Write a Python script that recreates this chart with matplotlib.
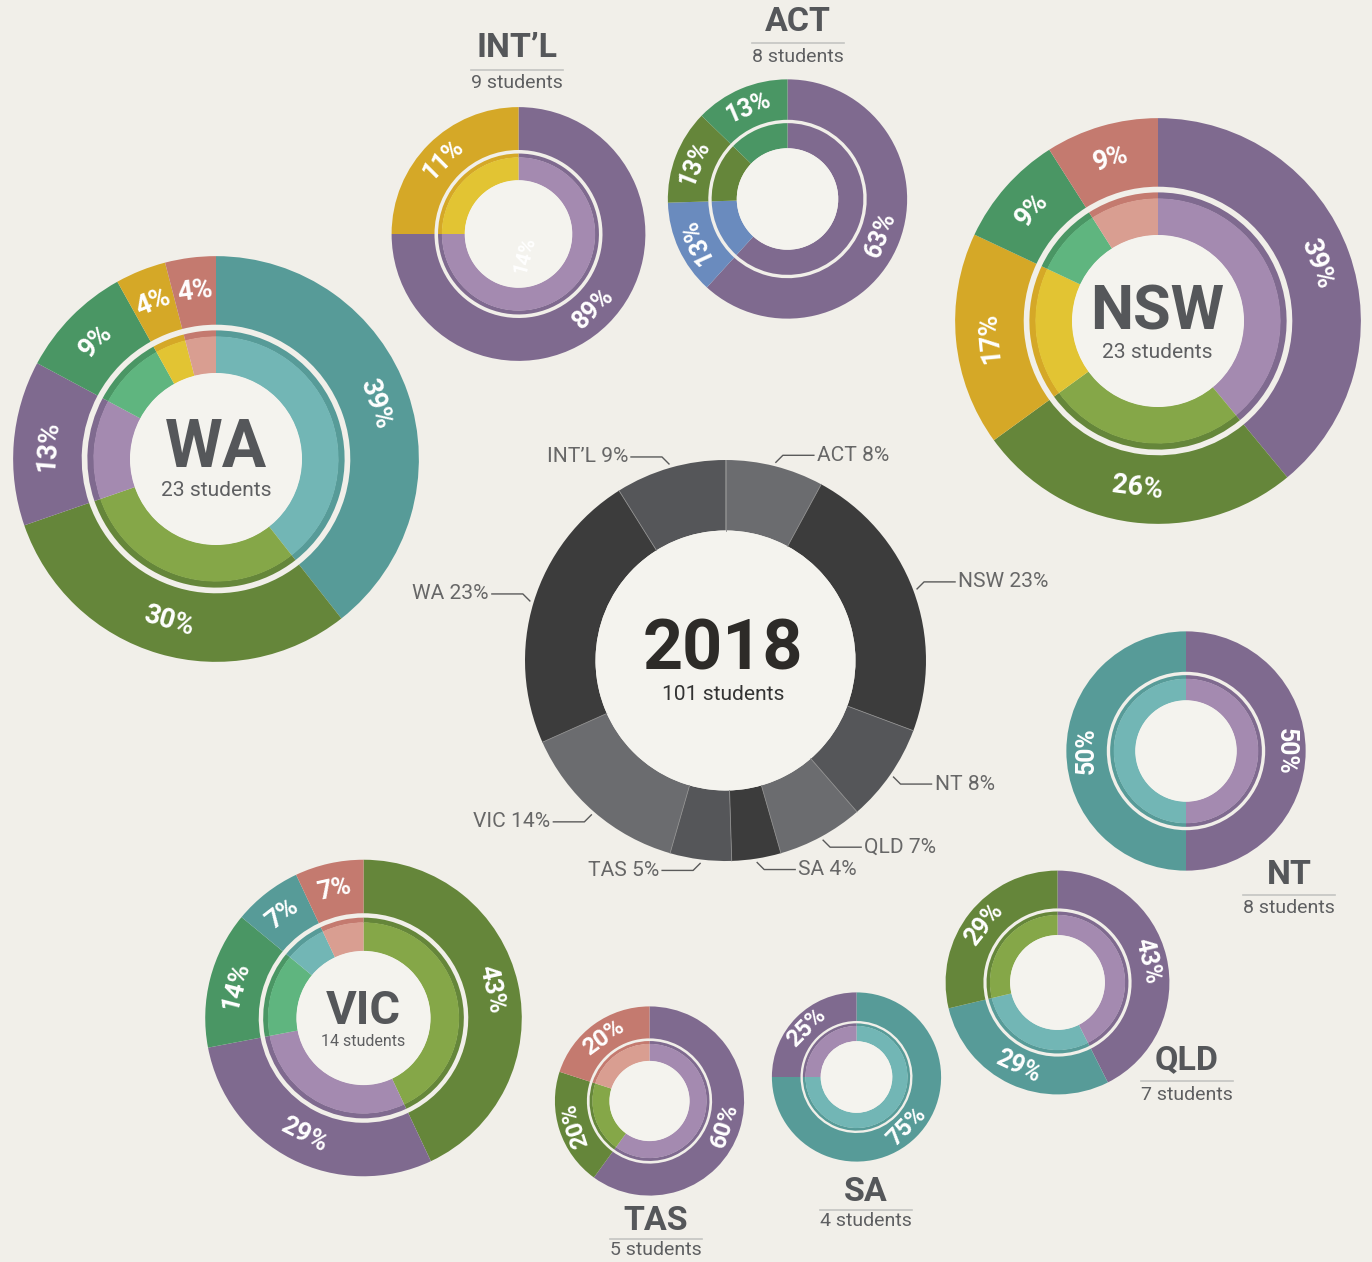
import numpy as np
import matplotlib
matplotlib.use('Agg')
import matplotlib.pyplot as plt
from matplotlib.patches import Circle

plt.rcParams['font.family'] = ['Roboto', 'DejaVu Sans']

# ---------------- data ----------------
year = '2018'
regions = ['ACT', 'NSW', 'NT', 'QLD', 'SA', 'TAS', 'VIC', 'WA', 'INT’L']
students = [8, 23, 8, 7, 4, 5, 14, 23, 9]

# region breakdowns, clockwise from 12 o'clock
wa_cats = ['teal', 'olive', 'purple', 'green', 'yellow', 'salmon']
wa_vals = [39, 30, 13, 9, 4, 4]
nsw_cats = ['purple', 'olive', 'yellow', 'green', 'salmon']
nsw_vals = [39, 26, 17, 9, 9]
intl_cats = ['purple', 'yellow']
intl_vals = [75, 25]            # angular shares as drawn
intl_labels = ['89%', '11%']    # labels as printed
act_cats = ['purple', 'blue', 'olive', 'green']
act_vals = [63, 13, 13, 13]
nt_cats = ['purple', 'teal']
nt_vals = [50, 50]
qld_cats = ['purple', 'teal', 'olive']
qld_vals = [43, 29, 29]
vic_cats = ['olive', 'purple', 'green', 'teal', 'salmon']
vic_vals = [43, 29, 14, 7, 7]
tas_cats = ['purple', 'olive', 'salmon']
tas_vals = [60, 20, 20]
sa_cats = ['teal', 'purple']
sa_vals = [75, 25]

# ---------------- styles ----------------
W, H = 1372, 1262
BG = '#F1EFE9'
HOLE = '#F4F3EE'
OUT = {'purple': '#7F6A8F', 'teal': '#579B98', 'olive': '#65863A',
       'green': '#4A9664', 'yellow': '#D5A827', 'salmon': '#C47A6F',
       'blue': '#6A8BBE'}
INN = {'purple': '#A48AB0', 'teal': '#72B6B5', 'olive': '#85A748',
       'green': '#5FB57F', 'yellow': '#E2C433', 'salmon': '#D99E91',
       'blue': '#86A3CF'}
TITLE_C = '#55575A'
SUB_C = '#5E5F61'
GREYS = ['#6B6C6F', '#3C3C3C', '#555659']


def pt(px):
    return px * 0.72


fig = plt.figure(figsize=(W / 100, H / 100), dpi=100, facecolor=BG)
ax = fig.add_axes([0, 0, 1, 1])
ax.set_facecolor(BG)


def Y(py):
    return H - py


def ring_chart(cx_px, cy_px, n, cats, vals, labels, inner_same=False):
    R = 42.3 * np.sqrt(n)
    cx, cy = cx_px, Y(cy_px)
    oc = [OUT[c] for c in cats]
    ic = oc if inner_same else [INN[c] for c in cats]
    common = dict(center=(cx, cy), startangle=90, counterclock=False, frame=True)
    wedges, _ = ax.pie(vals, radius=R, colors=oc,
                       wedgeprops=dict(width=0.338 * R, linewidth=0), **common)
    if inner_same:
        ax.pie(vals, radius=0.634 * R, colors=oc,
               wedgeprops=dict(width=0.21 * R, linewidth=0), **common)
    else:
        ax.pie(vals, radius=0.634 * R, colors=oc,
               wedgeprops=dict(width=0.032 * R, linewidth=0), **common)
        ax.pie(vals, radius=0.604 * R, colors=ic,
               wedgeprops=dict(width=0.182 * R, linewidth=0), **common)
    ax.add_patch(Circle((cx, cy), 0.424 * R, color=HOLE, lw=0, zorder=2))
    fsz = pt(21.5 + 0.028 * R)
    for w, lab in zip(wedges, labels):
        th = (w.theta1 + w.theta2) / 2.0
        th = (th + 180) % 360 - 180
        r = 0.831 * R
        x = cx + r * np.cos(np.radians(th))
        y = cy + r * np.sin(np.radians(th))
        rot = th + 90 if -135 < th < 0 else th - 90
        ax.text(x, y, lab, rotation=rot, rotation_mode='anchor', ha='center',
                va='center', color='white', fontsize=fsz, fontweight='bold',
                zorder=5)
    return R


def pct_labels(vals):
    return [f'{v}%' for v in vals]


def outside_title(x, y_title, y_line, y_sub, name, n):
    ax.text(x, Y(y_title), name, ha='center', va='center', fontsize=pt(34),
            fontweight='bold', color=TITLE_C)
    ax.plot([x - 46, x + 46], [Y(y_line), Y(y_line)], color='#C4C4C2', lw=1.2)
    ax.text(x, Y(y_sub), f'{n} students', ha='center', va='center',
            fontsize=pt(19.5), color=SUB_C)


def inside_title(x, y_title, y_sub, name, n, big, small):
    ax.text(x, Y(y_title), name, ha='center', va='center', fontsize=pt(big),
            fontweight='bold', color=TITLE_C, zorder=6)
    ax.text(x, Y(y_sub), f'{n} students', ha='center', va='center',
            fontsize=pt(small), color=SUB_C, zorder=6)


S = dict(zip(regions, students))

# ---------------- region charts ----------------
ring_chart(216, 459, S['WA'], wa_cats, wa_vals, pct_labels(wa_vals))
inside_title(216, 449, 490, 'WA', S['WA'], 66, 21)

ring_chart(1158, 321, S['NSW'], nsw_cats, nsw_vals, pct_labels(nsw_vals))
inside_title(1157, 312, 353, 'NSW', S['NSW'], 61, 21)

ring_chart(363.5, 1018, S['VIC'], vic_cats, vic_vals, pct_labels(vic_vals))
inside_title(363, 1011, 1042, 'VIC', S['VIC'], 47, 16)

ring_chart(518.5, 234, S['INT’L'], intl_cats, intl_vals, intl_labels)
ax.text(525, Y(255), '14%', rotation=75, ha='center', va='center',
        color='white', fontsize=pt(20), fontweight='bold', zorder=6)
outside_title(517, 48, 70, 83, 'INT’L', S['INT’L'])

ring_chart(787.5, 199, S['ACT'], act_cats, act_vals, pct_labels(act_vals),
           inner_same=True)
outside_title(798, 22, 43, 57, 'ACT', S['ACT'])

ring_chart(1186, 751, S['NT'], nt_cats, nt_vals, pct_labels(nt_vals))
outside_title(1289, 875, 895, 908, 'NT', S['NT'])

ring_chart(1057.5, 982.5, S['QLD'], qld_cats, qld_vals, pct_labels(qld_vals))
outside_title(1187, 1060, 1081, 1095, 'QLD', S['QLD'])

ring_chart(856.5, 1077, S['SA'], sa_cats, sa_vals, pct_labels(sa_vals))
outside_title(866, 1192, 1210, 1221, 'SA', S['SA'])

ring_chart(649.5, 1101, S['TAS'], tas_cats, tas_vals, pct_labels(tas_vals))
outside_title(656, 1221, 1239, 1250, 'TAS', S['TAS'])

# ---------------- central overview donut ----------------
ccx, ccy, CR = 725.5, Y(660.5), 200.5
total = sum(students)
gcols = [GREYS[i % 3] for i in range(len(regions))]
cw, _ = ax.pie(students, radius=CR, center=(ccx, ccy), startangle=90,
               counterclock=False, colors=gcols, frame=True,
               wedgeprops=dict(width=CR - 130, linewidth=0))
ax.add_patch(Circle((ccx, ccy), 130, color=HOLE, lw=0, zorder=2))
for w in cw:
    a = np.radians(w.theta1)
    ax.plot([ccx + 130 * np.cos(a), ccx + CR * np.cos(a)],
            [ccy + 130 * np.sin(a), ccy + CR * np.sin(a)],
            color='#8C8C8C', lw=0.6, zorder=3)

for w, name, n in zip(cw, regions, students):
    th = np.radians((w.theta1 + w.theta2) / 2.0)
    sx, sy = ccx + (CR + 4) * np.cos(th), ccy + (CR + 4) * np.sin(th)
    dx = 1 if np.cos(th) >= 0 else -1
    dy = 1 if np.sin(th) >= 0 else -1
    ex, ey = sx + 7 * dx, sy + 7 * dy
    hx = ex + 31 * dx
    ax.plot([sx, ex, hx], [sy, ey, ey], color='#5A5A5A', lw=1.0)
    ax.text(hx + 3 * dx, ey, f'{name} {round(100 * n / total)}%',
            ha='left' if dx > 0 else 'right', va='center',
            fontsize=pt(21), color='#676767', fontweight='normal')

ax.text(723, Y(650), year, ha='center', va='center', fontsize=pt(70),
        fontweight='bold', color='#2D2B28', zorder=6)
ax.text(723, Y(695), f'{total} students', ha='center', va='center',
        fontsize=pt(21), color='#333333', zorder=6)

ax.set_xlim(0, W)
ax.set_ylim(0, H)
ax.set_aspect('auto')
ax.axis('off')
fig.savefig('out.png', dpi=100, facecolor=BG)
